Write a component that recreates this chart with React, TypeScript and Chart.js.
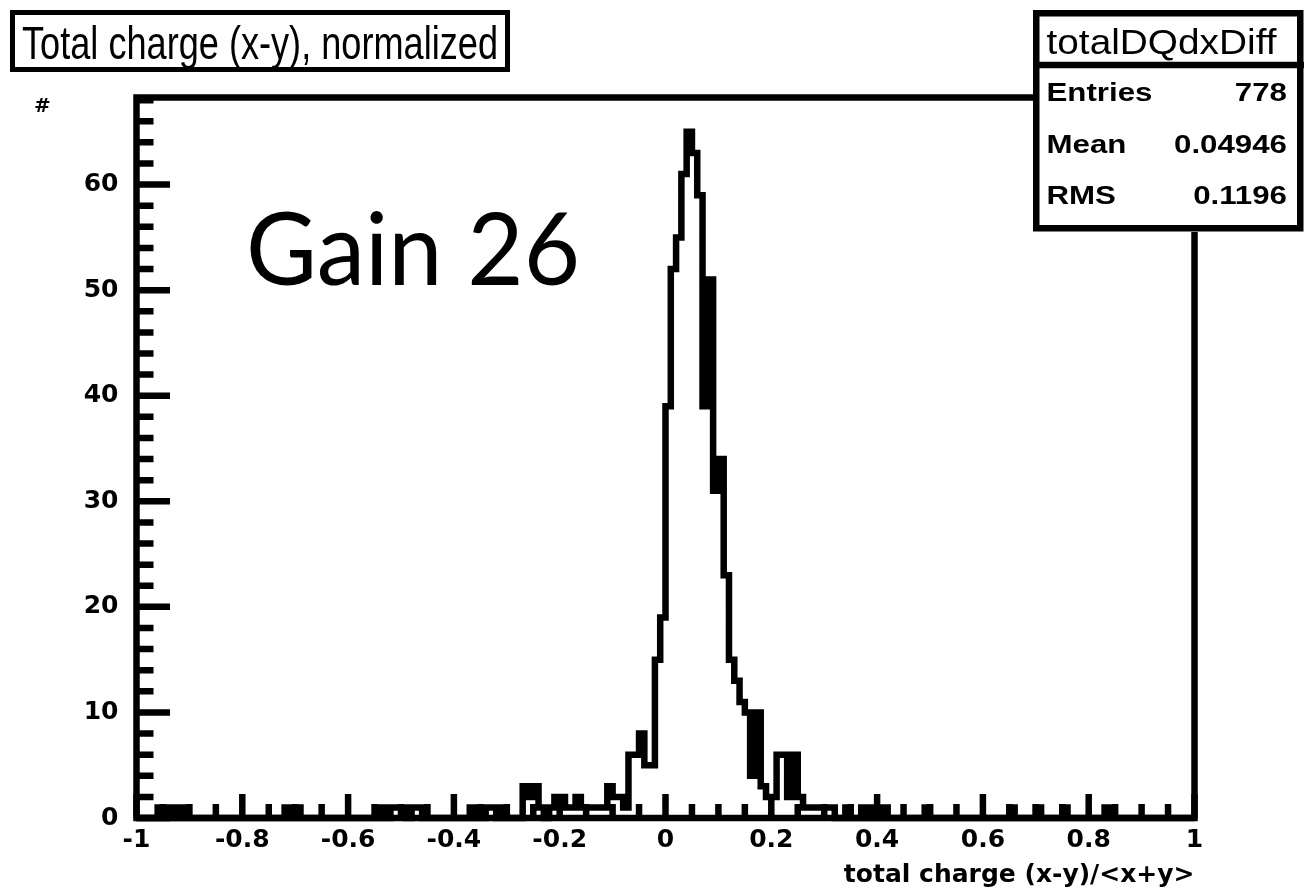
import React, { useEffect, useRef } from "react";
import { Chart, registerables } from "chart.js";

Chart.register(...registerables);

// ---- data ----
const histName = "totalDQdxDiff";
const titleText = "Total charge (x-y), normalized";
const xAxisTitle = "total charge (x-y)/<x+y>";
const yAxisTitle = "#";
const gainLabel = "Gain 26";

// 200 bins of width 0.01 on [-1, 1]
const binStart = -1;
const binWidth = 0.01;
const binCounts: number[] = [
  0, 0, 0, 0, 1, 0, 1, 0, 1, 0, // -1.00 .. -0.91
  0, 0, 0, 0, 0, 0, 0, 0, 0, 0, // -0.90 .. -0.81
  0, 0, 0, 0, 0, 0, 0, 0, 1, 0, // -0.80 .. -0.71
  1, 0, 0, 0, 0, 0, 0, 0, 0, 0, // -0.70 .. -0.61
  0, 0, 0, 0, 0, 0, 1, 0, 1, 1, // -0.60 .. -0.51
  1, 0, 1, 1, 0, 0, 0, 0, 0, 0, // -0.50 .. -0.41
  0, 0, 0, 1, 0, 0, 1, 1, 0, 1, // -0.40 .. -0.31
  0, 0, 0, 3, 2, 3, 1, 0, 1, 2, // -0.30 .. -0.21
  2, 1, 1, 2, 1, 1, 1, 1, 1, 3, // -0.20 .. -0.11
  2, 2, 1, 6, 6, 8, 5, 5, 15, 19, // -0.10 .. -0.01
  39, 52, 55, 61, 65, 63, 59, 39, 51, 31, // 0.00 .. 0.09
  34, 23, 15, 13, 11, 10, 4, 10, 3, 2, // 0.10 .. 0.19
  2, 6, 6, 2, 6, 2, 1, 1, 1, 1, // 0.20 .. 0.29
  1, 1, 0, 0, 1, 0, 0, 1, 0, 1, // 0.30 .. 0.39
  0, 1, 0, 0, 0, 0, 0, 0, 0, 1, // 0.40 .. 0.49
  0, 0, 0, 0, 0, 0, 0, 0, 0, 0, // 0.50 .. 0.59
  0, 0, 0, 0, 0, 1, 0, 0, 0, 0, // 0.60 .. 0.69
  1, 0, 0, 0, 0, 1, 0, 0, 0, 0, // 0.70 .. 0.79
  0, 0, 0, 1, 0, 0, 0, 0, 0, 0, // 0.80 .. 0.89
  0, 0, 0, 0, 0, 0, 0, 0, 0, 0, // 0.90 .. 0.99
];

const xTickValues = [-1, -0.8, -0.6, -0.4, -0.2, 0, 0.2, 0.4, 0.6, 0.8, 1];
const yTickValues = [0, 10, 20, 30, 40, 50, 60];
const xMin = -1;
const xMax = 1;
const yMax = 68.25;

const statsLabels = ["Entries", "Mean", "RMS"];
const statsValues = ["778", "0.04946", "0.1196"];

// ---- helpers ----
const fmtTick = (v: number) => String(Math.round(v * 10) / 10);

function xMinorTicks(): number[] {
  const out: number[] = [];
  for (let k = 0; k < xTickValues.length - 1; k++) {
    const a = xTickValues[k];
    const b = xTickValues[k + 1];
    for (let j = 1; j < 4; j++) out.push(a + ((b - a) * j) / 4);
  }
  return out;
}

function yMinorTicks(): number[] {
  const out: number[] = [];
  const step = (yTickValues[1] - yTickValues[0]) / 5;
  for (let v = step; v <= yMax + 1e-9; v += step) {
    const r = v / 10;
    if (Math.abs(r - Math.round(r)) > 1e-6) out.push(v);
  }
  return out;
}

function drawScaledText(
  ctx: CanvasRenderingContext2D,
  text: string,
  x: number,
  baseline: number,
  font: string,
  sx: number,
  align: CanvasTextAlign = "left"
) {
  ctx.save();
  ctx.font = font;
  ctx.textBaseline = "alphabetic";
  ctx.textAlign = align;
  ctx.translate(x, baseline);
  ctx.scale(sx, 1);
  ctx.fillText(text, 0, 0);
  ctx.restore();
}

function fitScale(ctx: CanvasRenderingContext2D, text: string, font: string, width: number) {
  ctx.save();
  ctx.font = font;
  const w = ctx.measureText(text).width;
  ctx.restore();
  return w > 0 ? width / w : 1;
}

const decorPlugin = {
  id: "rootDecor",
  afterDraw(chart: any) {
    const { ctx, chartArea: a, scales } = chart;
    const xs = scales.x;
    const ys = scales.y;
    ctx.save();
    ctx.strokeStyle = "#000";
    ctx.fillStyle = "#000";
    ctx.lineCap = "butt";
    ctx.lineJoin = "miter";

    // inward axis ticks (ROOT style)
    ctx.lineWidth = 6.5;
    ctx.beginPath();
    xTickValues.forEach((v) => {
      const p = xs.getPixelForValue(v);
      ctx.moveTo(p, a.bottom);
      ctx.lineTo(p, a.bottom - 24);
    });
    xMinorTicks().forEach((v) => {
      const p = xs.getPixelForValue(v);
      ctx.moveTo(p, a.bottom);
      ctx.lineTo(p, a.bottom - 14);
    });
    yTickValues.forEach((v) => {
      const p = ys.getPixelForValue(v);
      ctx.moveTo(a.left, p);
      ctx.lineTo(a.left + 33.5, p);
    });
    yMinorTicks().forEach((v) => {
      const p = ys.getPixelForValue(v);
      ctx.moveTo(a.left, p);
      ctx.lineTo(a.left + 17, p);
    });
    ctx.stroke();

    // frame
    ctx.lineWidth = 6.5;
    ctx.strokeRect(a.left, a.top, a.right - a.left, a.bottom - a.top);

    // y axis title
    drawScaledText(ctx, yAxisTitle, 34, 112, "bold 20px 'DejaVu Sans'", 1);

    // title box
    ctx.fillStyle = "#fff";
    ctx.fillRect(10, 10, 500, 62);
    ctx.fillStyle = "#000";
    ctx.lineWidth = 5;
    ctx.strokeRect(12.5, 12.5, 495, 57);
    const tFont = "47px 'Liberation Sans'";
    drawScaledText(ctx, titleText, 22, 59, tFont, fitScale(ctx, titleText, tFont, 476));

    // stats box
    ctx.fillStyle = "#fff";
    ctx.fillRect(1033, 10, 271, 222);
    ctx.fillStyle = "#000";
    ctx.lineWidth = 6.5;
    ctx.strokeRect(1036.25, 13.25, 264, 215);
    ctx.beginPath();
    ctx.moveTo(1033, 65);
    ctx.lineTo(1304, 65);
    ctx.stroke();
    const sFont = "35px 'Liberation Sans'";
    drawScaledText(ctx, histName, 1046.5, 53.5, sFont, fitScale(ctx, histName, sFont, 230));
    const rowFont = "bold 25px 'Liberation Sans'";
    const rowBase = [101, 152.5, 203.5];
    statsLabels.forEach((lab, i) => {
      drawScaledText(ctx, lab, 1046.5, rowBase[i], rowFont, 1.25, "left");
      drawScaledText(ctx, statsValues[i], 1287, rowBase[i], rowFont, 1.25, "right");
    });

    // annotation
    const gFont = "100px Lato";
    drawScaledText(ctx, gainLabel, 246, 285, gFont, fitScale(ctx, gainLabel, gFont, 334));

    ctx.restore();
  },
};

export default function App() {
  const canvasRef = useRef<HTMLCanvasElement | null>(null);

  useEffect(() => {
    const canvas = canvasRef.current;
    if (!canvas) return;
    const points = binCounts.map((c, i) => ({ x: binStart + i * binWidth, y: c }));
    points.push({ x: binStart + binCounts.length * binWidth, y: 0 });

    const tickFont = { family: "'DejaVu Sans'", weight: "bold" as const, size: 25 };

    const chart = new Chart(canvas, {
      type: "line",
      data: {
        datasets: [
          {
            label: histName,
            data: points,
            stepped: true,
            borderColor: "#000",
            borderWidth: 6.5,
            pointRadius: 0,
            pointHoverRadius: 0,
            fill: false,
            clip: false as any,
            borderJoinStyle: "miter",
            borderCapStyle: "butt",
          },
        ],
      },
      options: {
        animation: false,
        responsive: false,
        devicePixelRatio: 1,
        events: [],
        layout: { padding: { top: 97.5, right: 109.5, bottom: 0, left: 0 } },
        plugins: {
          legend: { display: false },
          tooltip: { enabled: false },
          title: { display: false },
        },
        scales: {
          x: {
            type: "linear",
            min: xMin,
            max: xMax,
            afterFit: (s: any) => {
              s.height = 76;
            },
            afterBuildTicks: (s: any) => {
              s.ticks = xTickValues.map((v) => ({ value: v }));
            },
            grid: { display: false, drawTicks: false },
            border: { display: false },
            ticks: {
              color: "#000",
              font: tickFont,
              padding: 7,
              autoSkip: false,
              maxRotation: 0,
              minRotation: 0,
              callback: (v: any) => fmtTick(Number(v)),
            },
            title: {
              display: true,
              text: xAxisTitle,
              align: "end",
              color: "#000",
              font: { family: "'DejaVu Sans'", weight: "bold", size: 25 },
              padding: { top: 0, bottom: 4 },
            },
          },
          y: {
            type: "linear",
            min: 0,
            max: yMax,
            afterFit: (s: any) => {
              s.width = 136.5;
            },
            afterBuildTicks: (s: any) => {
              s.ticks = yTickValues.map((v) => ({ value: v }));
            },
            grid: { display: false, drawTicks: false },
            border: { display: false },
            ticks: {
              color: "#000",
              font: tickFont,
              padding: 18,
              callback: (v: any) => fmtTick(Number(v)),
            },
          },
        },
      },
      plugins: [decorPlugin],
    });

    return () => chart.destroy();
  }, []);

  return (
    <div style={{ position: "fixed", left: 0, top: 0, width: 1304, height: 894, background: "#fff" }}>
      <canvas ref={canvasRef} width={1304} height={894} style={{ display: "block", width: 1304, height: 894 }} />
    </div>
  );
}
